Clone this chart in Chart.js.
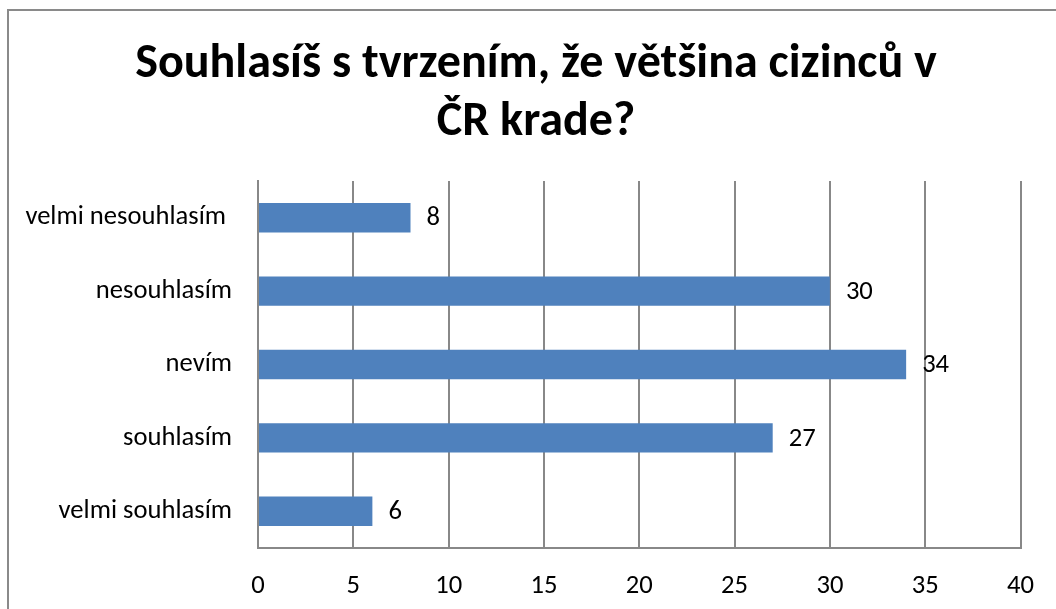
<!DOCTYPE html>
<html>
<head>
<meta charset="utf-8">
<script src="https://cdn.jsdelivr.net/npm/chart.js@4/dist/chart.umd.min.js"></script>
<style>
  html, body { margin: 0; padding: 0; background: #fff; overflow: hidden; }
  #wrap { position: relative; width: 1056px; height: 609px; }
  #frame { position: absolute; left: 7px; top: 9px; width: 1200px; height: 800px;
           border: 2px solid #8a8a8a; box-sizing: border-box; }
  canvas { position: absolute; left: 0; top: 0; }
</style>
</head>
<body>
<div id="wrap">
  <div id="frame"></div>
  <canvas id="c" width="1056" height="609"></canvas>
</div>
<script>
const titleLines = ["Souhlasíš s tvrzením, že většina cizinců v", "ČR krade?"];
const categories = ["velmi nesouhlasím ", "nesouhlasím", "nevím", "souhlasím", "velmi souhlasím"];
const values = [8, 30, 34, 27, 6];
const xTicks = [0, 5, 10, 15, 20, 25, 30, 35, 40];

const FAMILY = "Carlito, Lato, 'Open Sans', sans-serif";
function fitSize(text, weight, target) {
  const ctx = document.createElement('canvas').getContext('2d');
  ctx.font = weight + " 100px " + FAMILY;
  return Math.round(100 * target / ctx.measureText(text).width * 10) / 10;
}
const titleSize = fitSize(titleLines[0], "bold", 802);
const labelSize = fitSize("nesouhlasím", "normal", 136);

// Title drawn centred on the whole chart frame (not only on the plot area)
const frameTitle = {
  id: 'frameTitle',
  afterDraw(chart) {
    const ctx = chart.ctx;
    ctx.save();
    ctx.font = "bold " + titleSize + "px " + FAMILY;
    ctx.fillStyle = "#000";
    ctx.textAlign = "center";
    ctx.textBaseline = "alphabetic";
    const cx = (chart.width + 16) / 2;
    titleLines.forEach((t, i) => ctx.fillText(t, cx, 77 + i * 58));
    ctx.restore();
  }
};

const valueLabels = {
  id: 'valueLabels',
  afterDatasetsDraw(chart) {
    const ctx = chart.ctx;
    const meta = chart.getDatasetMeta(0);
    ctx.save();
    ctx.font = "normal " + labelSize + "px " + FAMILY;
    ctx.fillStyle = "#000";
    ctx.textAlign = "left";
    ctx.textBaseline = "middle";
    meta.data.forEach((el, i) => {
      ctx.fillText(String(values[i]), el.x + 16, el.y + 1);
    });
    ctx.restore();
  }
};

new Chart(document.getElementById('c'), {
  type: 'bar',
  data: {
    labels: categories,
    datasets: [{
      data: values,
      backgroundColor: '#4F81BD',
      borderWidth: 0,
      barPercentage: 0.4,
      categoryPercentage: 1.0
    }]
  },
  options: {
    indexAxis: 'y',
    responsive: false,
    animation: false,
    devicePixelRatio: 1,
    layout: { padding: { left: 8, right: 33, top: 181, bottom: 0 } },
    plugins: {
      legend: { display: false },
      tooltip: { enabled: false },
      title: { display: false }
    },
    scales: {
      x: {
        min: 0, max: 40,
        afterBuildTicks(scale) { scale.ticks = xTicks.map(v => ({ value: v })); },
        afterFit(scale) { scale.height = 61; },
        ticks: {
          color: '#000',
          font: { family: FAMILY, size: labelSize },
          padding: 22,
          maxRotation: 0
        },
        grid: { color: '#888888', lineWidth: 2, drawTicks: false },
        border: { display: true, color: '#888888', width: 2 }
      },
      y: {
        afterFit(scale) { scale.width = 250; },
        ticks: {
          color: '#000',
          font: { family: FAMILY, size: labelSize },
          padding: 26
        },
        grid: { display: false, drawTicks: false },
        border: { display: true, color: '#888888', width: 2 }
      }
    }
  },
  plugins: [valueLabels, frameTitle]
});
</script>
</body>
</html>
